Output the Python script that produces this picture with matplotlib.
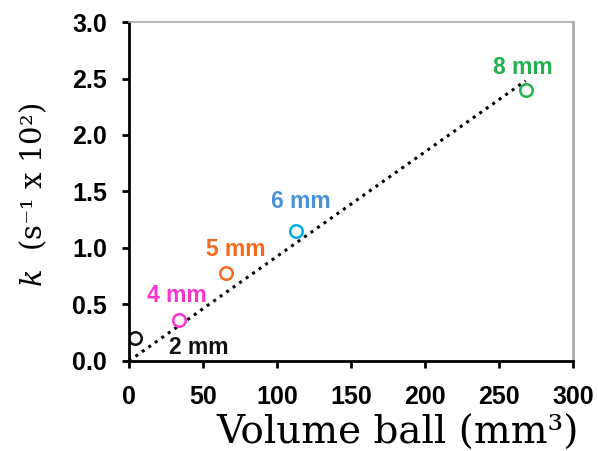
import matplotlib.pyplot as plt
import numpy as np

plt.rcParams['mathtext.fontset'] = 'dejavuserif'

# ball sizes, volume (mm^3) and rate constant k (s^-1 x 10^2)
labels = ['2 mm', '4 mm', '5 mm', '6 mm', '8 mm']
volume = [4.2, 33.5, 65.4, 113.1, 268.1]
k_vals = [0.20, 0.36, 0.78, 1.15, 2.40]
marker_colors = ['#111111', '#ff33cc', '#f26b1d', '#00aaee', '#22b14c']
label_colors = ['#111111', '#ff33cc', '#f26b1d', '#4a90d9', '#22b14c']
label_pos = [(47, 0.12), (32, 0.58), (72, 0.99), (116, 1.41), (266, 2.6)]

# linear trend through the origin
trend_x = [0, 268]
trend_y = [0, 2.48]

fig = plt.figure(figsize=(5.98, 4.51), dpi=100)
ax = fig.add_axes([0.2157, 0.1996, 0.7425, 0.7516])

ax.plot(trend_x, trend_y, color='black', linestyle=(0, (1, 1.6)), linewidth=2.2)
for x, y, c in zip(volume, k_vals, marker_colors):
    ax.plot(x, y, 'o', markersize=9, markerfacecolor='white', markeredgecolor=c, markeredgewidth=1.8)
for (lx, ly), t, c in zip(label_pos, labels, label_colors):
    ax.text(lx, ly, t, color=c, fontsize=16.5, fontweight='bold', ha='center', va='center',
            family='Liberation Sans')

ax.set_xlim(0, 300)
ax.set_ylim(0, 3.0)
ax.set_xticks(np.arange(0, 301, 50))
ax.set_yticks(np.arange(0, 3.01, 0.5))
ax.set_yticklabels([f'{v:.1f}' for v in np.arange(0, 3.01, 0.5)])
for lab in ax.get_xticklabels() + ax.get_yticklabels():
    lab.set_fontweight('bold')
    lab.set_fontfamily('Liberation Sans')
    lab.set_fontsize(18)
ax.tick_params(direction='out', length=5, width=2)
ax.tick_params(axis='x', pad=12)
ax.tick_params(axis='y', pad=11)

ax.spines['left'].set_linewidth(2)
ax.spines['bottom'].set_linewidth(2)
ax.spines['top'].set_color('#aaaaaa')
ax.spines['right'].set_color('#aaaaaa')
ax.spines['top'].set_linewidth(1.2)
ax.spines['right'].set_linewidth(2)

fig.text(398 / 598, 1 - 444 / 451, 'Volume ball (mm³)', fontsize=28, family='DejaVu Serif',
         ha='center', va='baseline')
fig.text(33 / 598, 1 - 195 / 451, r'$k$  (s⁻¹ x 10²)', fontsize=21, family='DejaVu Serif',
         ha='center', va='center', rotation=90)

fig.savefig('out.png', dpi=100)
